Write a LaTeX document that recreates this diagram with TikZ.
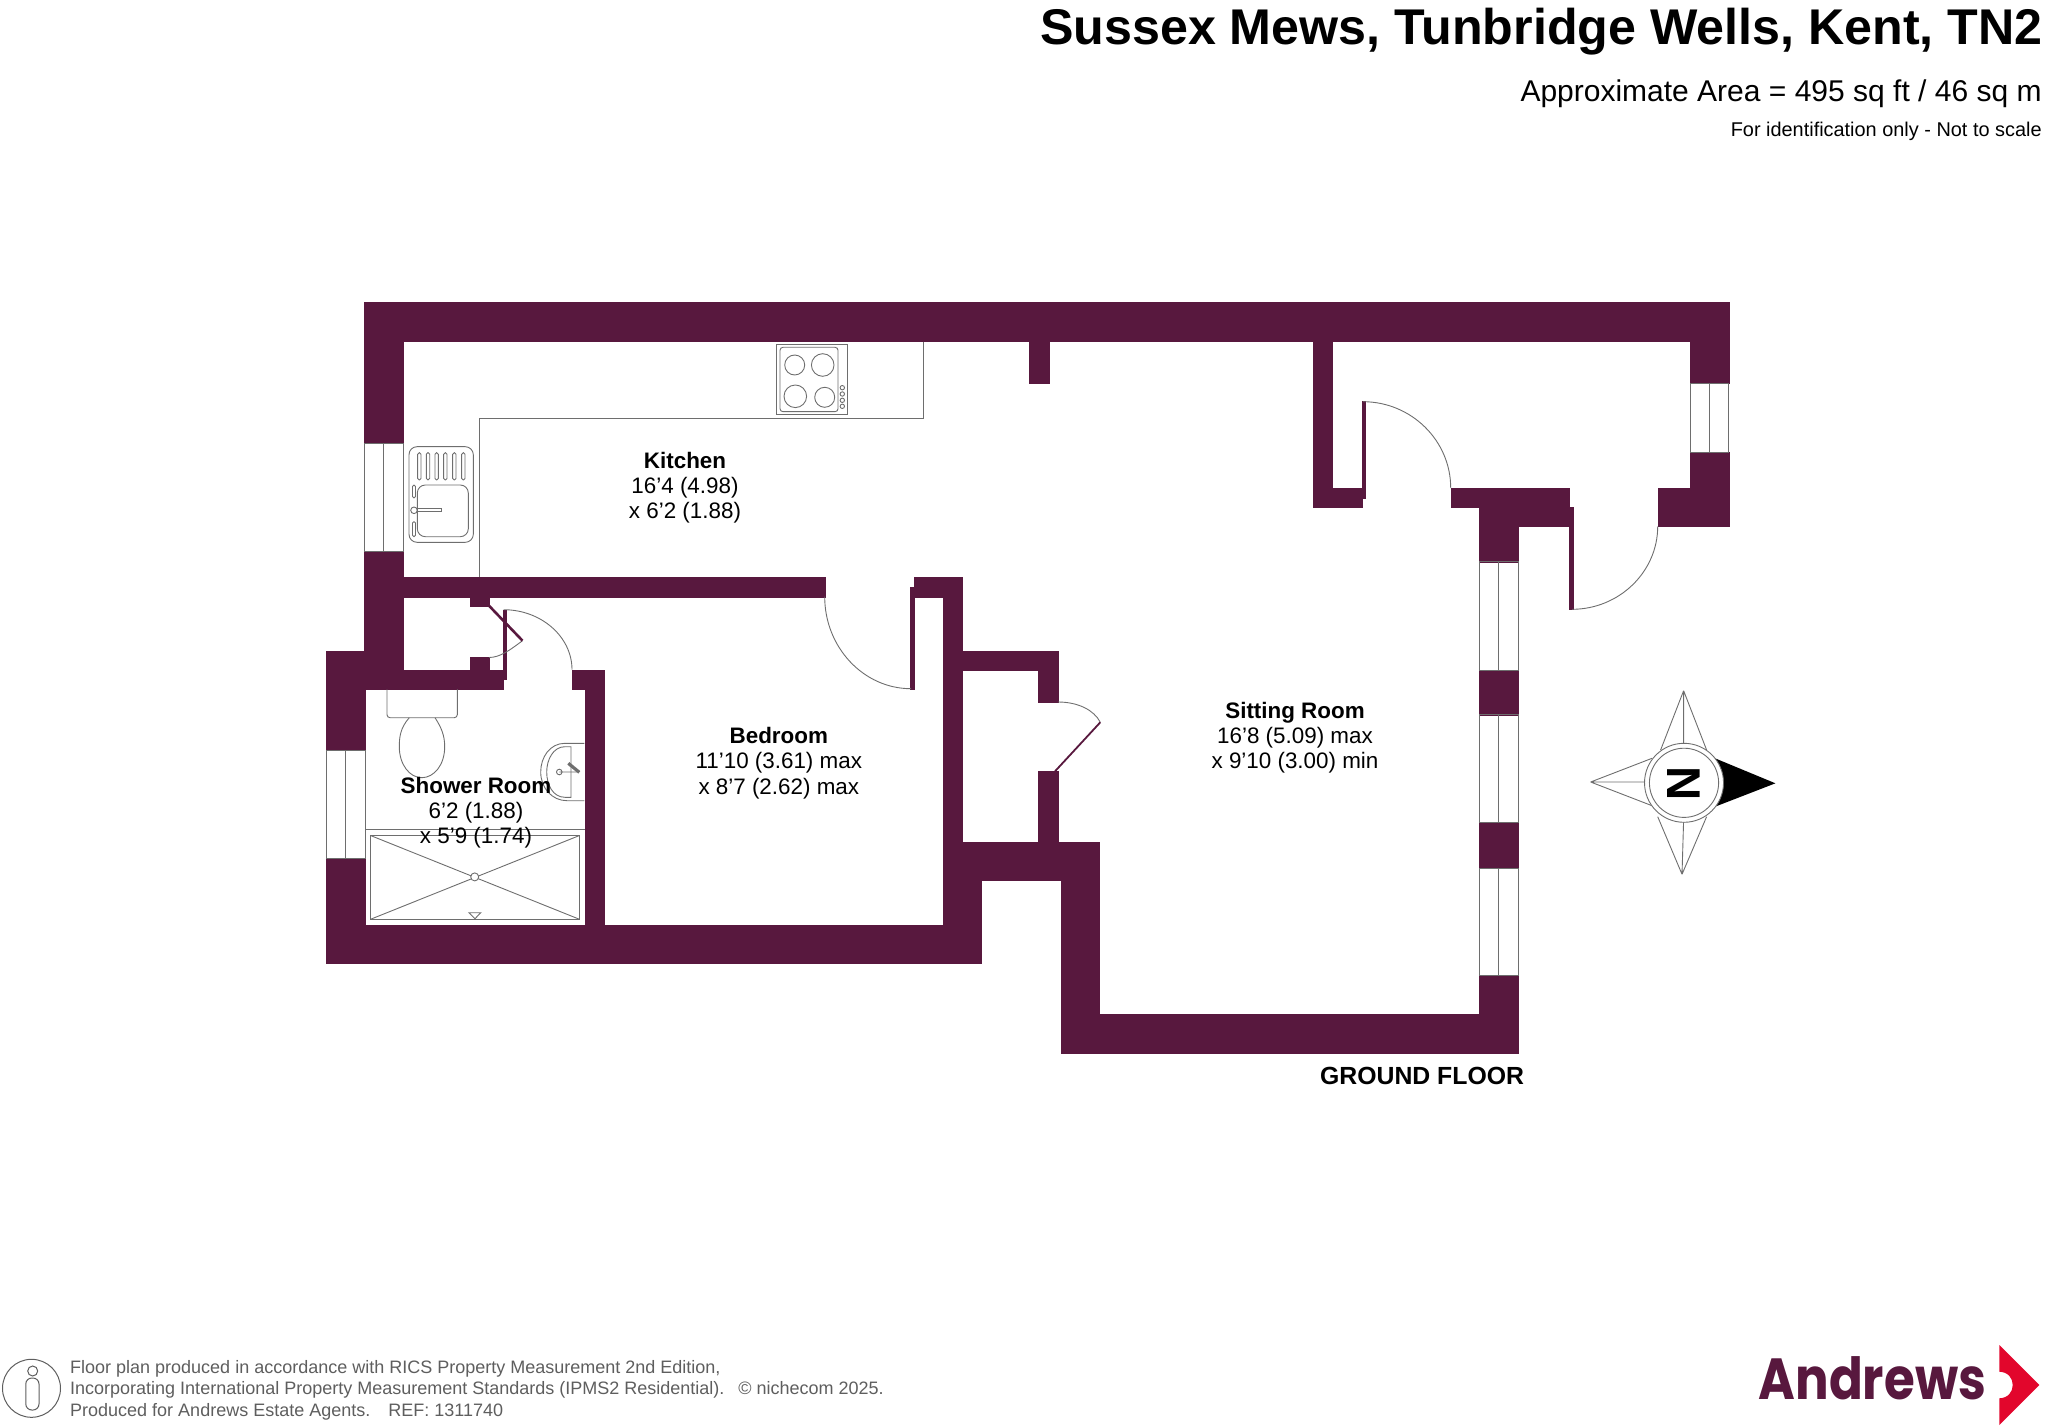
\documentclass[tikz,border=0pt]{standalone}
\usepackage{fontspec}
\setmainfont{Liberation Sans}
\newfontfamily\logofont[FakeStretch=0.86]{Poppins}
\definecolor{wallcol}{HTML}{58183E}
\definecolor{linecol}{HTML}{6E6E6E}
\definecolor{footcol}{HTML}{5E5E5E}
\definecolor{logored}{HTML}{E2062C}
\tikzset{
    wall/.style={fill=wallcol,draw=wallcol,line width=0.2pt},
    fitting/.style={draw=linecol,line width=0.45pt},
    roomname/.style={align=center,font=\fontsize{11.2}{12.6}\selectfont,inner sep=0pt},
    footline/.style={anchor=base west,inner sep=0pt,text=footcol,font=\fontsize{9}{11}\selectfont}
}

\begin{document}
\begin{tikzpicture}[x=0.5pt,y=-0.5pt]
    \useasboundingbox (0,0) rectangle (2048,1427);
    % walls
    \foreach \xa/\ya/\xb/\yb in {364.5/302.7/1728.8/341.7, 364.5/341.7/403/443.3, 364.5/551.7/403/689,
        326.5/650.7/365/750, 326.5/858/365/963.3, 326.5/924.7/981.5/963.3, 403/577/824.7/596.7,
        470/596.7/489/605.7, 470/657.5/489/669.7, 403/669.7/502.7/689, 502.7/610/505.7/679,
        572/669.7/604.6/689, 585/689/604.6/924.7, 914/577/962/596.7, 943/596.7/962/841.7,
        910.5/586.7/914/688.7, 962/650.7/1057.9/670.3, 1038.3/670.3/1057.9/702,
        1038.3/771.3/1057.9/841.7, 943/841.7/1099.2/880, 943/880/981.5/924.7,
        1060.7/880/1099.2/1052.7, 1060.7/1013.7/1518/1052.7, 1479.4/975.3/1518/1013.7,
        1479.4/822.7/1518/868, 1479.4/670/1518/714.7, 1479.4/507.3/1518/561.7,
        1450.7/488/1568.7/507.3, 1518/507.3/1568.7/526.3, 1569/506.7/1573/609.3,
        1658/488/1728.8/526.3, 1690.5/452.7/1728.8/488, 1690.5/341.7/1728.8/383,
        1313/341.7/1332.3/507.3, 1332.3/488/1361.7/507.3, 1361.7/401.7/1364.7/498,
        1028.9/341.7/1048.8/383}
    \fill [wall] (\xa,\ya) rectangle (\xb,\yb);
    % windows
    \foreach \xa/\ya/\xb/\yb in {364.5/443.3/403/551.7, 326.5/750/365/858, 1690.5/383/1728.8/452.7,
        1479.4/561.7/1518/670, 1479.4/714.7/1518/822.7, 1479.4/868/1518/975.3}
    \draw [fitting] (\xa,\ya) rectangle (\xb,\yb) ({(\xa+\xb)/2},\ya) -- ({(\xa+\xb)/2},\yb);
    % doors
    \draw [fitting] (824.7,596.7) .. controls (824.7,647.3) and (863.5,688.7) .. (911,688.7);
    \draw [fitting] (503.5,609.7) .. controls (541.2,609.7) and (572,636.7) .. (572,669.7);
    \draw [fitting] (522.5,640.7) .. controls (510,650) and (500,657.5) .. (489,657.5);
    \draw [fitting] (1363,401.7) .. controls (1411,401.7) and (1450.7,440.3) .. (1450.7,488);
    \draw [fitting] (1572,609.3) .. controls (1619,609.3) and (1657.7,572) .. (1657.7,526.3);
    \draw [fitting] (1057.9,702) .. controls (1078,702) and (1094,710) .. (1100.3,722.3);
    \draw [wallcol,line width=1.3pt] (489,605.7) -- (522.5,640.7);
    \draw [wallcol,line width=0.9pt] (1055,771.3) -- (1100.3,722.3);
    % worktop and hob
    \draw [fitting] (479.6,577) -- (479.6,418) -- (923.4,418) -- (923.4,341.7);
    \draw [fitting] (776.7,344) rectangle (847.3,414.7);
    \draw [fitting,rounded corners=1.5pt] (780,347.3) rectangle (838,411.7);
    \foreach \x/\y/\r in {794.7/365/10, 822.7/365/11.3, 795.3/396.3/11.3, 824.7/397.3/10}
    \draw [fitting] (\x,\y) circle (\r);
    \foreach \y in {387.7,394,400.3,406.3}
    \draw [fitting] (842.3,\y) circle (2.2);
    % sink
    \draw [fitting,rounded corners=4pt] (409,446.7) rectangle (473.3,542.3);
    \draw [fitting,rounded corners=4pt] (417.3,485) rectangle (468.3,536.7);
    \foreach \x in {419.3,428,436.7,445.3,454.3,463.3}
    \draw [fitting,rounded corners=0.8pt] ({\x-1.7},452.7) rectangle ({\x+1.7},480);
    \draw [fitting,rounded corners=0.7pt] (412.5,485) rectangle (415.5,498);
    \draw [fitting,rounded corners=0.7pt] (412.5,521.7) rectangle (415.5,536.7);
    \draw [fitting] (417.3,508.8) -- (441.7,508.8) -- (441.7,511.8) -- (417.3,511.8);
    \draw [fitting] (414,510.3) circle (3.3);
    % toilet
    \draw [fitting,rounded corners=1.5pt] (387,689.3) -- (387,717.7) -- (457.3,717.7) -- (457.3,689.3);
    \draw [fitting] (409.3,717.7) .. controls (400,728) and (399.3,738) .. (399.3,746.7)
        .. controls (399.3,765) and (410,777.7) .. (421.7,777.7)
        .. controls (434,777.7) and (444.7,765) .. (444.7,746.7)
        .. controls (444.7,735) and (441,727) .. (435,717.7);
    % basin
    \draw [fitting] (584.3,743.3) -- (565,743.3) .. controls (550,743.3) and (540.7,757) .. (540.7,772)
        .. controls (540.7,788) and (552,800.7) .. (567,800.7) -- (584.3,800.7);
    \draw [fitting] (571,746.7) -- (565,746.7) .. controls (553,746.7) and (546.7,760) .. (546.7,772)
        .. controls (546.7,785) and (553,797.3) .. (565,797.3) -- (571,797.3) -- cycle;
    \draw [fitting] (559.3,772) circle (2.8) -- (577,772);
    \draw [fitting,line width=1.6pt] (568.3,763.3) -- (579.3,772.3);
    % shower
    \draw [fitting] (365,829.3) -- (585,829.3);
    \draw [fitting] (370.5,835.5) rectangle (579.5,919.3);
    \draw [fitting] (370.5,835.5) -- (579.5,919.3) (370.5,919.3) -- (579.5,835.5);
    \draw [fitting,fill=white] (474.7,876.9) circle (4);
    \draw [fitting] (469,912.7) -- (480.7,912.7) -- (475,918.7) -- cycle;
    % room names
    \node [roomname] (kitchen) at (685,488) {\textbf{Kitchen}\\16'4 (4.98)\\x 6'2 (1.88)};
    \node [roomname] (bedroom) at (778.8,763) {\textbf{Bedroom}\\11'10 (3.61) max\\x 8'7 (2.62) max};
    \node [roomname] (shower) at (476,812.5) {\textbf{Shower Room}\\6'2 (1.88)\\x 5'9 (1.74)};
    \node [roomname] (sitting) at (1295,737.7) {\textbf{Sitting Room}\\16'8 (5.09) max\\x 9'10 (3.00) min};
    \node [inner sep=0pt,anchor=east,font=\fontsize{12.4}{14}\selectfont\bfseries] (floor) at (1524.4,1075.7) {GROUND FLOOR};
    % compass
    \draw [fitting] (1683.6,690.7) -- (1660.6,750) (1683.6,690.7) -- (1706.6,750) (1683.6,690.7) -- (1683.6,745);
    \draw [fitting] (1682,874.3) -- (1657.7,816.7) (1682,874.3) -- (1706.6,816.7) (1682,874.3) -- (1683.6,820);
    \draw [fitting] (1590.6,782) -- (1652,758.3) (1590.6,782) -- (1652,805.7) (1590.6,782) -- (1646,782);
    \fill [black] (1715,758.3) -- (1775.4,783.3) -- (1715,806.7) -- cycle;
    \draw [fitting,fill=white] (1684,782.8) circle (39.5);
    \draw [fitting] (1684,782.8) circle (34.6);
    \node [rotate=-90,inner sep=0pt,font=\fontsize{23.7}{24}\selectfont\bfseries] (north) at (1683.6,783.3) {N};
    % heading
    \node [anchor=base east,inner sep=0pt,font=\fontsize{25.1}{28}\selectfont\bfseries] (title) at (2043,45) {Sussex Mews, Tunbridge Wells, Kent, TN2};
    \node [anchor=base east,inner sep=0pt,font=\fontsize{15}{18}\selectfont] (area) at (2042,102) {Approximate Area = 495 sq ft / 46 sq m};
    \node [anchor=base east,inner sep=0pt,font=\fontsize{9.95}{12}\selectfont] (note) at (2042,137) {For identification only - Not to scale};
    % footer
    \draw [footcol,line width=0.5pt] (31.5,1388.3) circle (29);
    \draw [footcol,line width=0.5pt] (32.7,1371) circle (5);
    \draw [footcol,line width=0.5pt,rounded corners=3pt] (25.8,1378) rectangle (39,1410);
    \node [footline] (foota) at (69.8,1373) {Floor plan produced in accordance with RICS Property Measurement 2nd Edition,};
    \node [footline] (footb) at (69.8,1394.5) {Incorporating International Property Measurement Standards (IPMS2 Residential).};
    \node [footline] (footc) at (69.8,1416) {Produced for Andrews Estate Agents.\hspace{1em}REF: 1311740};
    \node [footline] (niche) at (738,1394.5) {© nichecom 2025.};
    % logo
    \node [anchor=base west,inner sep=0pt,text=wallcol,font=\logofont\fontsize{29}{32}\selectfont\bfseries] (logo) at (1758.3,1399) {Andrews};
    \fill [logored] (1999.3,1345) -- (2039.3,1385) -- (1999.3,1425) -- (1999.3,1398.3)
        .. controls (2008,1398) and (2012.7,1392) .. (2012.7,1385)
        .. controls (2012.7,1378) and (2008,1372) .. (1999.3,1371.7) -- cycle;
\end{tikzpicture}
\end{document}
